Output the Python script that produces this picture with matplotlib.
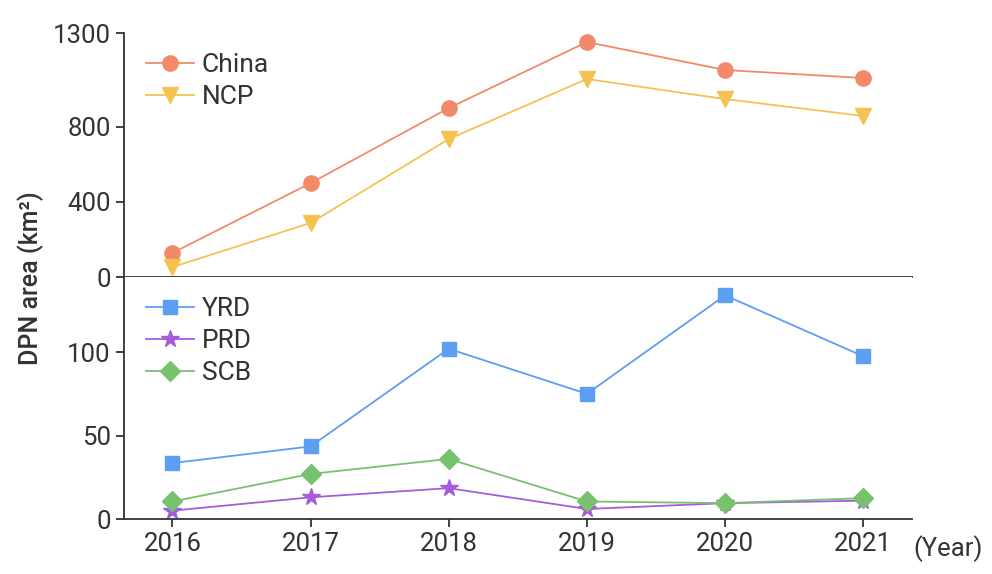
import matplotlib.pyplot as plt

plt.rcParams['font.family'] = ['Roboto', 'DejaVu Sans']

years = [2016, 2017, 2018, 2019, 2020, 2021]
china = [128, 500, 900, 1252, 1103, 1060]
ncp = [53, 288, 735, 1055, 948, 858]
yrd = [33.5, 43.5, 102, 75, 134, 97.5]
prd = [5, 13, 18.5, 6, 9.5, 11]
scb = [10.5, 27, 36, 10.5, 9.5, 12.5]

dark = '#333333'

fig = plt.figure(figsize=(9.92, 5.74), dpi=100)
ax1 = fig.add_axes([0.125, 0.5174, 0.794, 0.4251])
ax2 = fig.add_axes([0.125, 0.0958, 0.794, 0.4216])

ax1.plot(years, china, '-o', color='#F28A6A', lw=1.3, ms=11, label='China')
ax1.plot(years, ncp, '-v', color='#F5C250', lw=1.3, ms=11, label='NCP')
ax2.plot(years, yrd, '-s', color='#5C9EF2', lw=1.3, ms=10.5, label='YRD')
ax2.plot(years, prd, '-*', color='#A45CDB', lw=1.3, ms=13, label='PRD')
ax2.plot(years, scb, '-D', color='#78C16F', lw=1.3, ms=10, label='SCB')

for ax in (ax1, ax2):
    ax.set_xlim(2015.65, 2021.35)
    ax.spines['top'].set_visible(False)
    ax.spines['right'].set_visible(False)
    for s in ('left', 'bottom'):
        ax.spines[s].set_color(dark)
        ax.spines[s].set_linewidth(1.3)
    ax.tick_params(colors=dark, labelsize=18.5, length=6, width=1.3)
    ax.legend(loc='upper left', frameon=False, fontsize=19, handlelength=1.8,
              handletextpad=0.3, labelspacing=0.3, borderaxespad=0.0,
              bbox_to_anchor=(0.015, 0.96), labelcolor=dark)

ax1.set_ylim(0, 1300)
ax1.set_yticks([0, 400, 800, 1300])
ax1.tick_params(axis='x', bottom=False, labelbottom=False)

ax2.set_ylim(0, 145)
ax2.set_yticks([0, 50, 100])
ax2.set_xticks(years)

fig.text(0.031, 0.515, 'DPN area (km²)', rotation=90, va='center', ha='center',
         fontsize=18, color=dark, fontweight='medium')
fig.text(0.921, 0.045, '(Year)', fontsize=18.5, color=dark, va='center', ha='left')

fig.savefig('out.png', dpi=100)
